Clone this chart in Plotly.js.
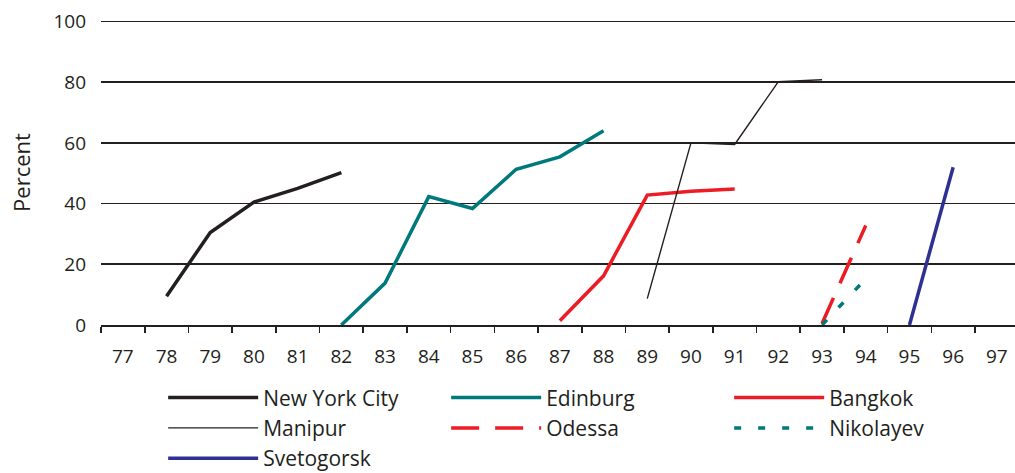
<!DOCTYPE html>
<html>
<head>
<meta charset="utf-8">
<script src="https://cdn.plot.ly/plotly-3.0.1.min.js"></script>
<style>html,body{margin:0;padding:0;background:#fff;}#chart{width:1015px;height:473px;}</style>
</head>
<body>
<div id="chart"></div>
<script>
var years = ['77','78','79','80','81','82','83','84','85','86','87','88','89','90','91','92','93','94','95','96','97'];

var nycYears = ['78','79','80','81','82'];
var nycValues = [9.5, 30.5, 40.5, 45, 50.2];

var edinburgYears = ['82','83','84','85','86','87','88'];
var edinburgValues = [0, 13.8, 42.3, 38.4, 51.3, 55.4, 64];

var bangkokYears = ['87','88','89','90','91'];
var bangkokValues = [1.4, 16.2, 42.8, 44.1, 44.8];

var manipurYears = ['89','90','91','92','93'];
var manipurValues = [8.7, 60, 59.5, 80.2, 80.8];

var odessaYears = ['93','94'];
var odessaValues = [0.5, 32.8];

var nikolayevYears = ['93','94'];
var nikolayevValues = [0, 15.2];

var svetogorskYears = ['95','96'];
var svetogorskValues = [0, 52];

var yTicks = [0, 20, 40, 60, 80, 100];

var dark = '#231f20', teal = '#00797c', red = '#ed1c24', navy = '#2e3192';

function tr(name, xs, ys, color, width, dash) {
  return {type:'scatter', mode:'lines', name:name, x:xs, y:ys,
          line:{color:color, width:width, dash:dash||'solid'}, hoverinfo:'skip'};
}

var data = [
  tr('New York City', nycYears, nycValues, dark, 3.5),
  tr('Edinburg', edinburgYears, edinburgValues, teal, 3.5),
  tr('Bangkok', bangkokYears, bangkokValues, red, 3.5),
  tr('Manipur', manipurYears, manipurValues, dark, 1.4),
  tr('Odessa', odessaYears, odessaValues, red, 3.5, '28px,16px'),
  tr('Nikolayev', nikolayevYears, nikolayevValues, teal, 3.5, '7px,17px'),
  tr('Svetogorsk', svetogorskYears, svetogorskValues, navy, 3.5)
];

var layout = {
  width:1015, height:473,
  margin:{l:101, r:0, t:20, b:148, pad:0, autoexpand:false},
  paper_bgcolor:'#fff', plot_bgcolor:'#fff',
  font:{family:'"Open Sans", sans-serif', size:19, color:dark},
  showlegend:true,
  legend:{orientation:'h', x:0.068, xanchor:'left', y:-0.172, yanchor:'top',
          entrywidth:178, entrywidthmode:'pixels', itemwidth:90,
          font:{size:21, color:dark}, bgcolor:'rgba(0,0,0,0)', tracegroupgap:0},
  xaxis:{type:'category', categoryorder:'array', categoryarray:years,
         tickvals:years, ticktext:years,
         range:[-0.5, 20.415], showgrid:false, zeroline:false,
         showline:true, linecolor:dark, linewidth:1.6,
         ticks:'outside', tickson:'boundaries', ticklen:6, tickwidth:1.6, tickcolor:dark,
         tickfont:{size:19, color:dark}, ticklabelstandoff:14, fixedrange:true},
  yaxis:{range:[0,100.5], tickvals:yTicks, ticktext:yTicks.map(String),
         showgrid:true, gridcolor:dark, gridwidth:1.6, zeroline:false, showline:false,
         ticks:'', ticklabelstandoff:14, tickfont:{size:19, color:dark},
         title:{text:'Percent', font:{size:22, color:dark}, standoff:16}, fixedrange:true}
};

Plotly.newPlot('chart', data, layout, {displayModeBar:false, staticPlot:true});
</script>
</body>
</html>
